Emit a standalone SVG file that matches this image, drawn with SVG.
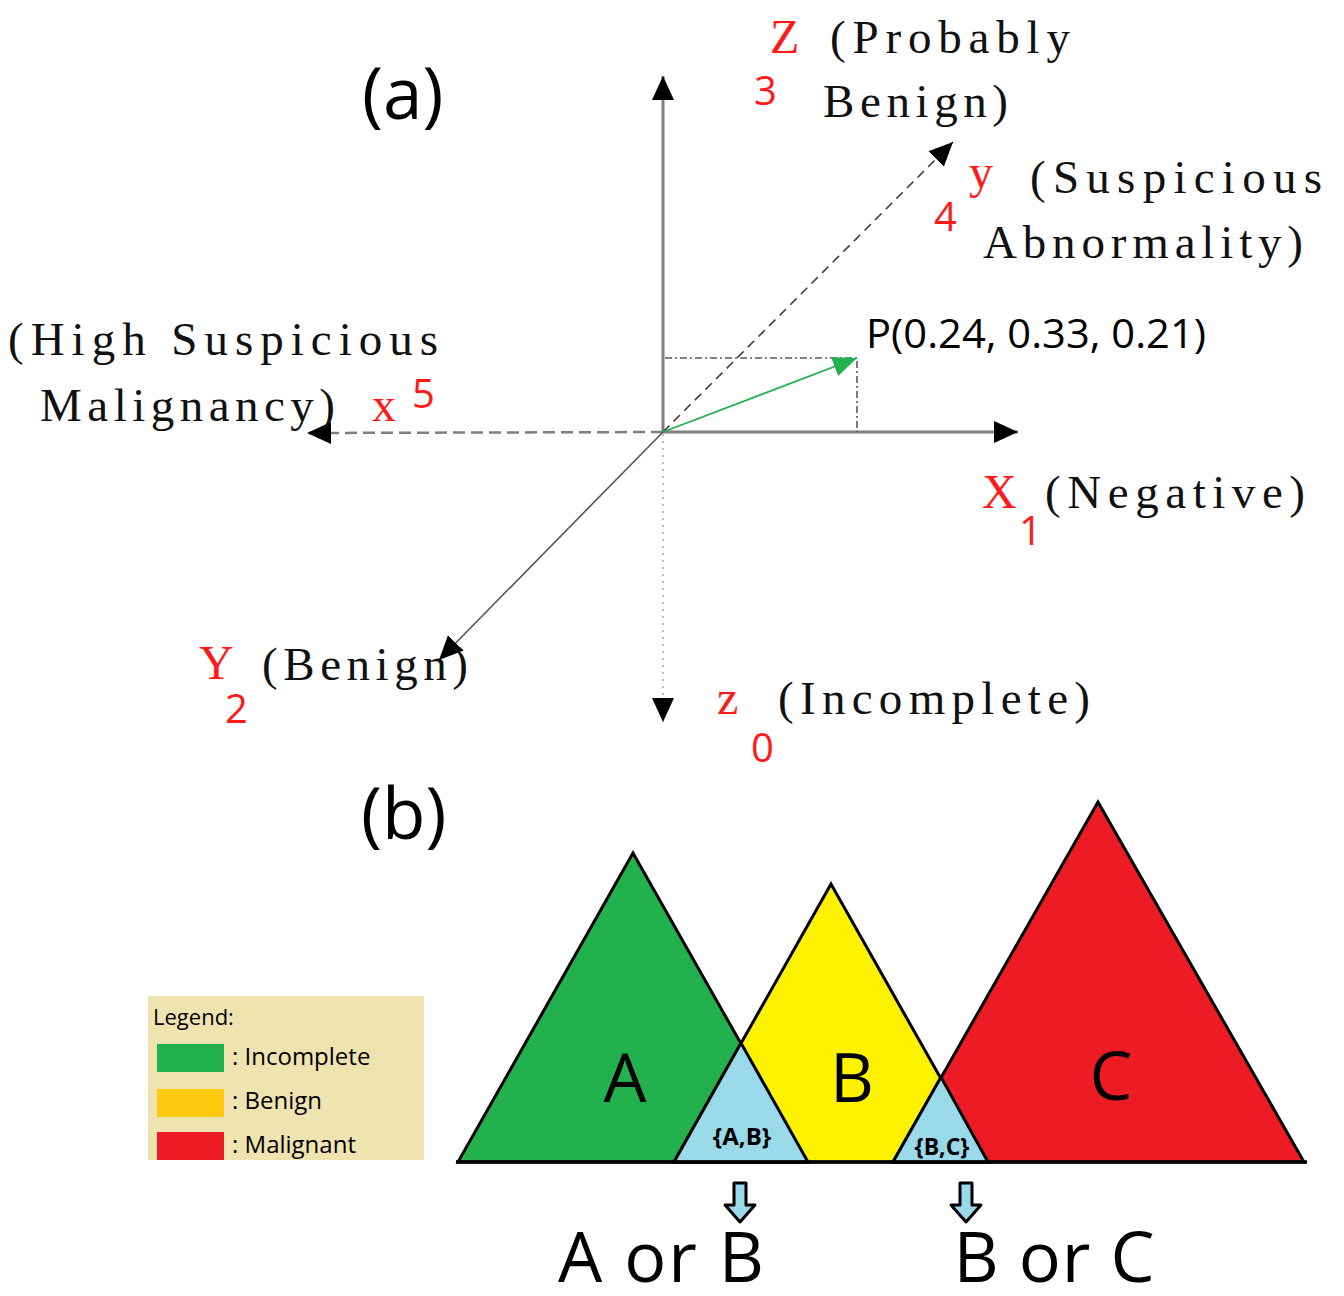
<svg xmlns="http://www.w3.org/2000/svg" width="1344" height="1296" viewBox="0 0 1344 1296">
<style>
.lbl{font-family:"Liberation Serif","DejaVu Serif",serif;font-size:47px;fill:#111}
.red{font-family:"Liberation Serif","DejaVu Serif",serif;font-size:48px;fill:#ff1a1a}
.num{font-family:"Open Sans","Noto Sans",sans-serif;font-size:40px;fill:#ff1a1a}
.sans{font-family:"Open Sans","Noto Sans",sans-serif;fill:#000}
.tri{stroke:#000;stroke-width:3;stroke-linejoin:miter}
</style>
<defs>
<marker id="ah" markerUnits="userSpaceOnUse" markerWidth="26" markerHeight="24" refX="24" refY="11" orient="auto">
<path d="M0,0 L24,11 L0,22 z" fill="#000"/>
</marker>
<marker id="ahg" markerUnits="userSpaceOnUse" markerWidth="26" markerHeight="24" refX="24" refY="10" orient="auto">
<path d="M0,0 L24,10 L0,20 z" fill="#22b14c"/>
</marker>
</defs>
<rect width="1344" height="1296" fill="#fff"/>

<g id="part-a-title"><text class="sans" x="362" y="119" font-size="71">(a)</text></g>

<g id="connectors">
<line x1="663" y1="432" x2="663" y2="76" stroke="#7f7f7f" stroke-width="3" marker-end="url(#ah)"/>
<line x1="663" y1="432" x2="1018" y2="432" stroke="#7f7f7f" stroke-width="3" marker-end="url(#ah)"/>
<line x1="663" y1="432" x2="307" y2="433" stroke="#7f7f7f" stroke-width="2.5" stroke-dasharray="12,6" marker-end="url(#ah)"/>
<line x1="663" y1="432" x2="953" y2="142" stroke="#404040" stroke-width="1.6" stroke-dasharray="9,6" marker-end="url(#ah)"/>
<line x1="663" y1="432" x2="439" y2="660" stroke="#555" stroke-width="1.6" marker-end="url(#ah)"/>
<line x1="663" y1="434" x2="663" y2="722" stroke="#aaa" stroke-width="1.6" stroke-dasharray="2,5" marker-end="url(#ah)"/>
<polyline points="665,358 857,358 857,432" fill="none" stroke="#595959" stroke-width="1.6" stroke-dasharray="7,3,2,3"/>
<line x1="663" y1="432" x2="857" y2="358" stroke="#22b14c" stroke-width="1.8" marker-end="url(#ahg)"/>
</g>

<g id="axis-z3">
<text class="red" x="770" y="53">Z</text>
<text class="num" x="754" y="105">3</text>
<text class="lbl" x="830" y="53" textLength="240" lengthAdjust="spacing">(Probably</text>
<text class="lbl" x="823" y="117" textLength="185" lengthAdjust="spacing">Benign)</text>
</g>
<g id="axis-y4">
<text class="red" x="969" y="188">y</text>
<text class="num" x="934" y="231">4</text>
<text class="lbl" x="1030" y="193" textLength="292" lengthAdjust="spacing">(Suspicious</text>
<text class="lbl" x="983" y="258" textLength="320" lengthAdjust="spacing">Abnormality)</text>
</g>
<g id="axis-x5">
<text class="lbl" x="8" y="355" textLength="430" lengthAdjust="spacing">(High Suspicious</text>
<text class="lbl" x="40" y="421" textLength="295" lengthAdjust="spacing">Malignancy)</text>
<text class="red" x="372" y="421">x</text>
<text class="num" x="412" y="408">5</text>
</g>
<g id="point-p">
<text class="sans" x="866" y="348" font-size="40" textLength="340" lengthAdjust="spacingAndGlyphs">P(0.24, 0.33, 0.21)</text>
</g>
<g id="axis-x1">
<text class="red" x="982" y="508">X</text>
<text class="num" x="1019" y="545">1</text>
<text class="lbl" x="1045" y="508" textLength="260" lengthAdjust="spacing">(Negative)</text>
</g>
<g id="axis-y2">
<text class="red" x="199" y="679">Y</text>
<text class="num" x="225" y="723">2</text>
<text class="lbl" x="262" y="680" textLength="206" lengthAdjust="spacing">(Benign)</text>
</g>
<g id="axis-z0">
<text class="red" x="717" y="714">z</text>
<text class="num" x="751" y="762">0</text>
<text class="lbl" x="778" y="714" textLength="312" lengthAdjust="spacing">(Incomplete)</text>
</g>

<g id="part-b-title"><text class="sans" x="361" y="839" font-size="71">(b)</text></g>

<g id="triangle-A"><polygon class="tri" points="633,853 458,1162 808,1162" fill="#22b14c"/></g>
<g id="triangle-B"><polygon class="tri" points="831,884 674,1162 988,1162" fill="#fff200"/></g>
<g id="triangle-C"><polygon class="tri" points="1098,802 893,1162 1304,1162" fill="#ed1c24"/></g>
<g id="overlap-AB">
<polygon class="tri" points="741,1043 674,1162 808,1162" fill="#99d9ea"/>
<text class="sans" x="742" y="1145" font-size="24" font-weight="bold" fill="#1a1a2e" text-anchor="middle">{A,B}</text>
</g>
<g id="overlap-BC">
<polygon class="tri" points="941,1077 893,1162 988,1162" fill="#99d9ea"/>
<text class="sans" x="942" y="1155" font-size="23" font-weight="bold" fill="#1a1a2e" text-anchor="middle">{B,C}</text>
</g>
<line x1="456" y1="1162" x2="1307" y2="1162" stroke="#000" stroke-width="3.5"/>
<g id="labels-abc">
<text class="sans" x="625" y="1102" font-size="68" text-anchor="middle">A</text>
<text class="sans" x="852" y="1102" font-size="68" text-anchor="middle">B</text>
<text class="sans" x="1111" y="1100" font-size="68" text-anchor="middle">C</text>
</g>

<g id="arrow-AB"><path d="M734,1183 H746 V1205 H755 L740,1222 L725,1205 H734 Z" fill="#99d9ea" stroke="#000" stroke-width="3" stroke-linejoin="round"/></g>
<g id="arrow-BC"><path d="M960,1183 H972 V1205 H981 L966,1222 L951,1205 H960 Z" fill="#99d9ea" stroke="#000" stroke-width="3" stroke-linejoin="round"/></g>
<g id="result-AB"><text class="sans" x="661" y="1282" font-size="70" text-anchor="middle" textLength="206" lengthAdjust="spacing">A or B</text></g>
<g id="result-BC"><text class="sans" x="1054" y="1282" font-size="70" text-anchor="middle" textLength="201" lengthAdjust="spacing">B or C</text></g>

<g id="legend">
<rect x="148" y="996" width="276" height="164" fill="#efe4b0"/>
<text class="sans" x="153" y="1025" font-size="22" fill="#222">Legend:</text>
<rect x="157" y="1044" width="67" height="28" fill="#22b14c"/>
<text class="sans" x="232" y="1065" font-size="24" fill="#1a1a40">: Incomplete</text>
<rect x="157" y="1089" width="67" height="28" fill="#ffc90e"/>
<text class="sans" x="232" y="1109" font-size="24" fill="#1a1a40">: Benign</text>
<rect x="157" y="1132" width="67" height="28" fill="#ed1c24"/>
<text class="sans" x="232" y="1153" font-size="24" fill="#1a1a40">: Malignant</text>
</g>
</svg>
